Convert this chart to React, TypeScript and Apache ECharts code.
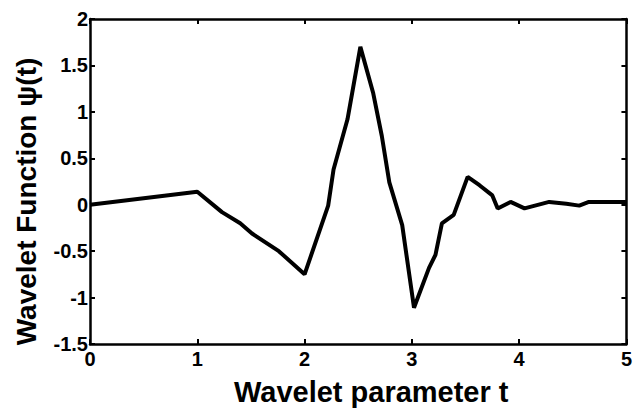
import React, { useEffect, useRef } from "react";
import * as echarts from "echarts";

const tValues = [0, 1, 1.23, 1.4, 1.51, 1.76, 2.0, 2.22, 2.27, 2.4, 2.52, 2.64, 2.72, 2.79, 2.91, 3.02, 3.16, 3.22, 3.28, 3.39, 3.52, 3.63, 3.75, 3.8, 3.92, 4.05, 4.28, 4.44, 4.56, 4.65, 5.0];
const psiValues = [0, 0.14, -0.08, -0.2, -0.31, -0.5, -0.75, -0.01, 0.38, 0.92, 1.7, 1.2, 0.74, 0.24, -0.22, -1.11, -0.68, -0.54, -0.2, -0.11, 0.3, 0.21, 0.1, -0.04, 0.03, -0.04, 0.03, 0.01, -0.01, 0.03, 0.03];
const xAxisTitle = "Wavelet parameter t";
const yAxisTitle = "Wavelet Function ψ(t)";

const FONT = "'Liberation Sans', Arial, Helvetica, sans-serif";

export default function App() {
  const ref = useRef<HTMLDivElement>(null);
  useEffect(() => {
    if (!ref.current) return;
    const chart = echarts.init(ref.current, undefined, { renderer: "svg" });
    const axisLine = { show: true, onZero: false, lineStyle: { color: "#000", width: 2.5 } };
    const axisTick = { show: true, inside: true, length: 5, lineStyle: { color: "#000", width: 2 } };
    const labelStyle = { color: "#000", fontSize: 20, fontWeight: "bold" as const, fontFamily: FONT };
    chart.setOption({
      animation: false,
      backgroundColor: "#fff",
      grid: { left: 90, right: 5, top: 19, bottom: 64, containLabel: false },
      xAxis: [
        {
          type: "value",
          min: 0,
          max: 5,
          interval: 1,
          position: "bottom",
          axisLine,
          axisTick,
          splitLine: { show: false },
          axisLabel: { ...labelStyle, margin: 5 },
          name: xAxisTitle,
          nameLocation: "middle",
          nameGap: 33,
          nameTextStyle: { color: "#000", fontSize: 29, fontWeight: "bold", fontFamily: FONT, padding: [0, 0, 0, 26] },
        },
        {
          type: "value",
          min: 0,
          max: 5,
          interval: 1,
          position: "top",
          axisLine,
          axisTick,
          splitLine: { show: false },
          axisLabel: { show: false },
        },
      ],
      yAxis: [
        {
          type: "value",
          min: -1.5,
          max: 2,
          interval: 0.5,
          position: "left",
          axisLine,
          axisTick,
          splitLine: { show: false },
          axisLabel: { ...labelStyle, margin: 2 },
          name: yAxisTitle,
          nameLocation: "middle",
          nameGap: 50,
          nameRotate: 90,
          nameTextStyle: { color: "#000", fontSize: 28, fontWeight: "bold", fontFamily: FONT, padding: [0, 40, 0, 0] },
        },
        {
          type: "value",
          min: -1.5,
          max: 2,
          interval: 0.5,
          position: "right",
          axisLine,
          axisTick,
          splitLine: { show: false },
          axisLabel: { show: false },
        },
      ],
      series: [
        {
          type: "line",
          data: tValues.map((t, i) => [t, psiValues[i]]),
          showSymbol: false,
          lineStyle: { color: "#000", width: 4 },
          xAxisIndex: 0,
          yAxisIndex: 0,
        },
      ],
    });
    return () => chart.dispose();
  }, []);
  return <div ref={ref} style={{ width: 635, height: 411, position: "absolute", left: 0, top: 0 }} />;
}
